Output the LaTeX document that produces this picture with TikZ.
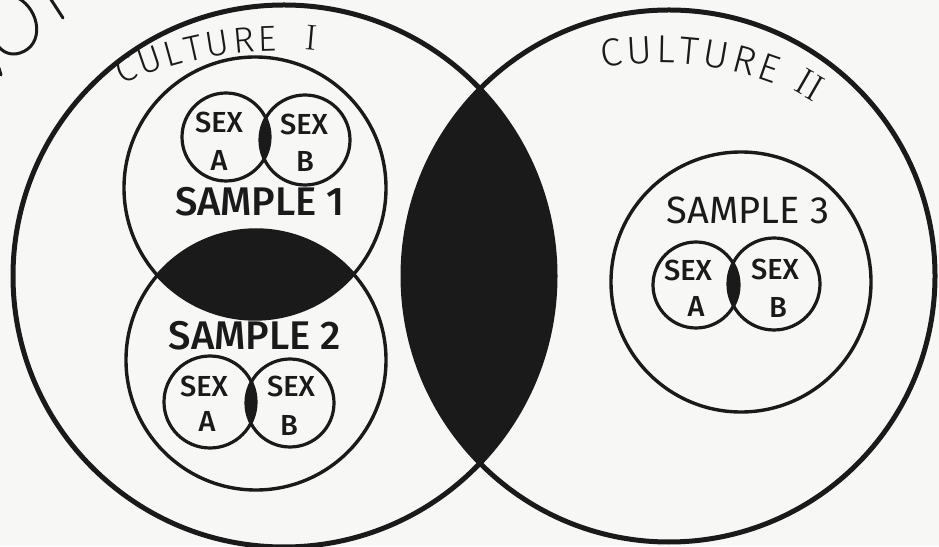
\documentclass[tikz,border=0pt]{standalone}
\usepackage{fontspec}
\setsansfont{Fira Sans}
\newfontfamily\culturefont{Fira Sans Light}
\newfontfamily\medfont{Fira Sans Medium}
\usetikzlibrary{decorations.text}
\definecolor{ink}{HTML}{1A1A1A}
\definecolor{paper}{HTML}{F7F7F5}
\tikzset{
  culturering/.style={draw=ink, line width=5pt},
  samplering/.style={draw=ink, line width=3.4pt},
  sexring/.style={draw=ink, line width=3.2pt},
  lensfill/.style={fill=ink},
  samplelabel/.style={font=\medfont\fontsize{40}{40}\selectfont, text=ink, inner sep=0pt},
  sexlabel/.style={font=\medfont\fontsize{29}{29}\selectfont, text=ink, inner sep=0pt},
  numeral/.style={font=\rmfamily\fontsize{36}{36}\selectfont, text=ink, inner sep=0pt},
  stroke/.style={draw=ink, line width=3pt, line cap=round},
}
\begin{document}
\begin{tikzpicture}[x=1pt,y=1pt]
\useasboundingbox (0,0) rectangle (939,546);
\fill[paper] (0,0) rectangle (939,546);
\clip (0,0) rectangle (939,546);
% centres
\coordinate (cI) at (284,270);
\coordinate (cII) at (669,270);
\coordinate (s1) at (255,358);
\coordinate (s2) at (256,186);
\coordinate (s3) at (741,264);
\coordinate (s1a) at (226,409);
\coordinate (s1b) at (305,406);
\coordinate (s2a) at (210,144);
\coordinate (s2b) at (290,143);
\coordinate (s3a) at (696,261);
\coordinate (s3b) at (774,262);
% dark overlaps
\begin{scope}
  \clip (cI) circle[radius=271pt];
  \fill[lensfill] (cII) circle[radius=266pt];
\end{scope}
\begin{scope}
  \clip (s1) circle[radius=131pt];
  \fill[lensfill] (s2) circle[radius=130pt];
\end{scope}
\begin{scope}
  \clip (s1a) circle[radius=44pt];
  \fill[lensfill] (s1b) circle[radius=45pt];
\end{scope}
\begin{scope}
  \clip (s2a) circle[radius=46pt];
  \fill[lensfill] (s2b) circle[radius=44pt];
\end{scope}
\begin{scope}
  \clip (s3a) circle[radius=43pt];
  \fill[lensfill] (s3b) circle[radius=46pt];
\end{scope}
% rings
\draw[culturering] (cI) circle[radius=271pt];
\draw[culturering] (cII) circle[radius=266pt];
\draw[samplering] (s1) circle[radius=131pt];
\draw[samplering] (s2) circle[radius=130pt];
\draw[samplering] (s3) circle[radius=130pt];
\draw[sexring] (s1a) circle[radius=44pt];
\draw[sexring] (s1b) circle[radius=45pt];
\draw[sexring] (s2a) circle[radius=46pt];
\draw[sexring] (s2b) circle[radius=44pt];
\draw[sexring] (s3a) circle[radius=43pt];
\draw[sexring] (s3b) circle[radius=46pt];
% culture titles
\path[decorate, decoration={text along path, text color=ink, text align=fit to path,
  text={|\culturefont\fontsize{36}{36}\selectfont|CULTURE}}]
  (121.8,461.4) arc[start angle=114, end angle=90.5, radius=389pt];
\node[numeral, rotate=-5] (numI) at (311,508) {I};
\path[decorate, decoration={text along path, text color=ink, text align=fit to path,
  text={|\culturefont\fontsize{39}{39}\selectfont|CULTURE}}]
  (602.9,478.1) arc[start angle=100, end angle=69, radius=323pt];
\node[numeral, rotate=-30, font=\rmfamily\fontsize{38}{38}\selectfont] (numII) at (810,461) {II};
% sample labels
\node[samplelabel] (lab1) at (260,344) {SAMPLE 1};
\node[samplelabel] (lab2) at (255,210) {SAMPLE 2};
\node[samplelabel, font=\sffamily\fontsize{38}{38}\selectfont] (lab3) at (748,336) {SAMPLE 3};
% sex labels
\node[sexlabel] (s1sa) at (219,424) {SEX};
\node[sexlabel] (s1la) at (219,386) {A};
\node[sexlabel] (s1sb) at (304,422) {SEX};
\node[sexlabel] (s1lb) at (305,385) {B};
\node[sexlabel] (s2sa) at (204,160) {SEX};
\node[sexlabel] (s2la) at (207,125) {A};
\node[sexlabel] (s2sb) at (291,160) {SEX};
\node[sexlabel] (s2lb) at (289,121) {B};
\node[sexlabel] (s3sa) at (688,276) {SEX};
\node[sexlabel] (s3la) at (696,240) {A};
\node[sexlabel] (s3sb) at (775,277) {SEX};
\node[sexlabel] (s3lb) at (778,239) {B};
% cut-off marks at top left
\draw[stroke] (18,548) .. controls (40,536) and (45,501) .. (20,493) .. controls (10,490) and (3,494) .. (-2,500);
\draw[stroke] (50,548) -- (63,528);
\draw[stroke] (-1,478) -- (1,471);
\end{tikzpicture}
\end{document}
